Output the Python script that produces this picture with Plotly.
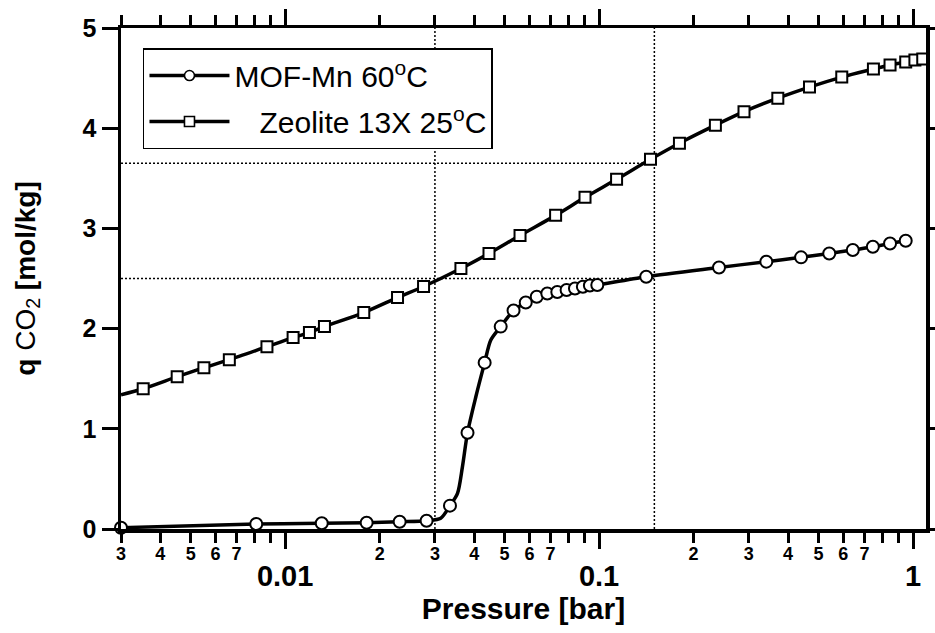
import plotly.graph_objects as go

# ---- data ----
mof_x = [0.003, 0.00809, 0.01308, 0.01818, 0.02316, 0.02822, 0.0335, 0.0381, 0.0432, 0.0486,
         0.0534, 0.0584, 0.0633, 0.0684, 0.0736, 0.0788, 0.0838, 0.0888, 0.0935, 0.0987,
         0.1413, 0.241, 0.341, 0.44, 0.541, 0.643, 0.745, 0.845, 0.948]
mof_y = [0.013, 0.05, 0.057, 0.063, 0.073, 0.083, 0.233, 0.961, 1.66, 2.02,
         2.18, 2.26, 2.318, 2.35, 2.365, 2.385, 2.40, 2.418, 2.43, 2.435,
         2.518, 2.61, 2.668, 2.711, 2.75, 2.784, 2.817, 2.85, 2.877]

mof_fit_x = [0.003, 0.00809, 0.01308, 0.01818, 0.02316, 0.02822, 0.0313, 0.0335, 0.0354, 0.0367,
             0.0381, 0.0405, 0.0432, 0.0452, 0.0486, 0.0534, 0.0584, 0.0633, 0.0736, 0.0838,
             0.0987, 0.1413, 0.241, 0.341, 0.44, 0.541, 0.643, 0.745, 0.845, 0.99]
mof_fit_y = [0.013, 0.05, 0.057, 0.063, 0.073, 0.083, 0.107, 0.233, 0.356, 0.62,
             0.961, 1.32, 1.66, 1.886, 2.02, 2.18, 2.26, 2.318, 2.365, 2.40,
             2.435, 2.518, 2.61, 2.668, 2.711, 2.75, 2.784, 2.817, 2.85, 2.89]

zeo_x = [0.00353, 0.00453, 0.00551, 0.00664, 0.00875, 0.0106, 0.01195, 0.01334, 0.0178, 0.0228,
         0.0276, 0.0363, 0.0446, 0.056, 0.0727, 0.0902, 0.1137, 0.1458, 0.1803, 0.2347,
         0.2895, 0.371, 0.468, 0.593, 0.748, 0.845, 0.948, 1.014, 1.074]
zeo_y = [1.40, 1.52, 1.61, 1.69, 1.82, 1.91, 1.96, 2.02, 2.16, 2.31,
         2.42, 2.60, 2.75, 2.93, 3.13, 3.31, 3.49, 3.69, 3.85, 4.03,
         4.165, 4.30, 4.41, 4.51, 4.59, 4.63, 4.66, 4.68, 4.69]

zeo_fit_x = [0.003] + zeo_x
zeo_fit_y = [1.34] + zeo_y

guide_x_vals = [0.03, 0.15]
guide_y_vals = [2.5, 3.65]

major_ticks = [0.01, 0.1, 1]
major_text = ["0.01", "0.1", "1"]
labeled_minor_ticks = [0.003, 0.004, 0.005, 0.006, 0.007,
                       0.02, 0.03, 0.04, 0.05, 0.06, 0.07,
                       0.2, 0.3, 0.4, 0.5, 0.6, 0.7]
labeled_minor_text = ["3", "4", "5", "6", "7",
                      "2", "3", "4", "5", "6", "7",
                      "2", "3", "4", "5", "6", "7"]
unlabeled_minor_ticks = [0.008, 0.009, 0.08, 0.09, 0.8, 0.9]
all_minor_ticks = sorted(labeled_minor_ticks + unlabeled_minor_ticks)
y_ticks = [0, 1, 2, 3, 4, 5]

legend_names = ["MOF-Mn 60<sup>o</sup>C", "\u00a0\u00a0\u00a0Zeolite 13X 25<sup>o</sup>C"]

FONT = "Liberation Sans, Arial, sans-serif"
X_RANGE = [-2.5229, 0.0414]
Y_RANGE = [0, 5]
LW = 3.5

fig = go.Figure()

dot = dict(color="black", width=1.5, dash="2px,2px")
for gx in guide_x_vals:
    fig.add_trace(go.Scatter(x=[gx, gx], y=[0, 5], mode="lines", line=dot,
                             showlegend=False, hoverinfo="skip"))
for gy in guide_y_vals:
    fig.add_trace(go.Scatter(x=[0.003, guide_x_vals[1]], y=[gy, gy], mode="lines", line=dot,
                             showlegend=False, hoverinfo="skip"))

fig.add_trace(go.Scatter(x=mof_fit_x, y=mof_fit_y, mode="lines",
                         line=dict(color="black", width=LW, shape="spline", smoothing=0.8),
                         showlegend=False))
fig.add_trace(go.Scatter(x=zeo_fit_x, y=zeo_fit_y, mode="lines",
                         line=dict(color="black", width=LW, shape="spline", smoothing=0.8),
                         showlegend=False))

fig.add_trace(go.Scatter(x=mof_x, y=mof_y, mode="markers", cliponaxis=False,
                         marker=dict(symbol="circle", size=12, color="white",
                                     line=dict(color="black", width=2)),
                         showlegend=False))
fig.add_trace(go.Scatter(x=zeo_x, y=zeo_y, mode="markers", cliponaxis=False,
                         marker=dict(symbol="square", size=11, color="white",
                                     line=dict(color="black", width=2)),
                         showlegend=False))

# legend entries
for name, sym, grp in [(legend_names[0], "circle", "a"), (legend_names[1], "square", "b")]:
    fig.add_trace(go.Scatter(x=[None], y=[None], mode="lines+markers", name=name,
                             legendgroup=grp,
                             line=dict(color="black", width=LW),
                             marker=dict(symbol=sym, size=10, color="white",
                                         line=dict(color="black", width=1.6))))

# empty traces that create the helper subplots carrying the extra tick sets
for xa, ya in [("x2", "y"), ("x3", "y"), ("x4", "y"), ("x5", "y"), ("x", "y2")]:
    fig.add_trace(go.Scatter(x=[None], y=[None], mode="lines", xaxis=xa, yaxis=ya,
                             showlegend=False, hoverinfo="skip"))

tick_common = dict(tickwidth=3, tickcolor="black", showgrid=False,
                   zeroline=False, automargin=False)
line_common = dict(showline=True, linecolor="black", linewidth=LW)

fig.update_layout(
    width=935, height=633,
    margin=dict(l=121, r=9, t=28, b=104, autoexpand=False),
    paper_bgcolor="white", plot_bgcolor="rgba(0,0,0,0)",
    font=dict(family=FONT, color="black"),
    showlegend=True,
    legend=dict(x=0.0273, y=0.96, xanchor="left", yanchor="top",
                bordercolor="black", borderwidth=1.5, bgcolor="white",
                font=dict(family=FONT, size=30, color="black"),
                tracegroupgap=4, itemwidth=80),
    # major labels (bottom) ; its mirrored ticks give the top major ticks
    xaxis=dict(type="log", range=X_RANGE, side="bottom", anchor="y", mirror="ticks",
               tickmode="array", tickvals=major_ticks, ticktext=major_text,
               ticks="outside", ticklen=16,
               tickfont=dict(family=FONT, size=29, weight="bold"),
               ticklabelstandoff=3,
               title=dict(text="Pressure [bar]", standoff=4,
                          font=dict(family=FONT, size=30, weight="bold")),
               **line_common, **tick_common),
    # minor labels only
    xaxis2=dict(type="log", range=X_RANGE, side="bottom", anchor="y", showline=False,
                tickmode="array", tickvals=labeled_minor_ticks, ticktext=labeled_minor_text,
                ticks="", ticklabelstandoff=12,
                tickfont=dict(family=FONT, size=18, weight="bold"),
                **tick_common),
    # top-side helper: mirrored major ticks land on the bottom
    xaxis3=dict(type="log", range=X_RANGE, side="top", anchor="y", mirror="ticks",
                showticklabels=False, tickmode="array", tickvals=major_ticks,
                ticks="outside", ticklen=16, **line_common, **tick_common),
    # top-side helper: mirrored minor ticks land on the bottom
    xaxis4=dict(type="log", range=X_RANGE, side="top", anchor="y", mirror="ticks",
                showticklabels=False, tickmode="array", tickvals=all_minor_ticks,
                ticks="outside", ticklen=10, **line_common, **tick_common),
    # bottom-side helper: mirrored minor ticks land on the top
    xaxis5=dict(type="log", range=X_RANGE, side="bottom", anchor="y", mirror="ticks",
                showticklabels=False, tickmode="array", tickvals=all_minor_ticks,
                ticks="outside", ticklen=10, **line_common, **tick_common),
    yaxis=dict(range=Y_RANGE, side="left", anchor="x", mirror="ticks",
               tickmode="array", tickvals=y_ticks, ticks="outside", ticklen=16,
               tickfont=dict(family=FONT, size=25, weight="bold"),
               title=dict(text="<b>q</b> CO<sub>2</sub> <b>[mol/kg]</b>", standoff=40,
                          font=dict(family=FONT, size=28)),
               **line_common, **tick_common),
    # right-side helper: mirrored ticks land on the left
    yaxis2=dict(range=Y_RANGE, side="right", anchor="x", mirror="ticks",
                showticklabels=False, tickmode="array", tickvals=y_ticks,
                ticks="outside", ticklen=16, **line_common, **tick_common),
)

fig.write_html("out.html", config={"staticPlot": True})
